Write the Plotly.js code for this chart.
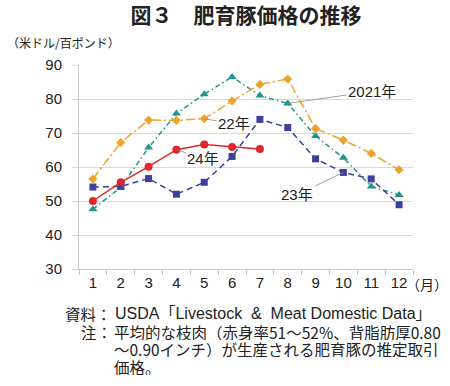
<!DOCTYPE html>
<html>
<head>
<meta charset="utf-8">
<script src="https://cdn.plot.ly/plotly-3.0.1.min.js"></script>
<style>
html,body{margin:0;padding:0;background:#fff;}
#chart{width:450px;height:386px;}
</style>
</head>
<body>
<div id="chart"></div>
<script>
// ---- data ----
var months = ['1','2','3','4','5','6','7','8','9','10','11','12'];
var y2021 = [47.6, 54.0, 65.7, 75.7, 81.4, 86.5, 81.0, 78.7, 69.1, 62.7, 54.3, 51.8];
var y2022 = [56.5, 67.2, 73.8, 73.7, 74.2, 79.4, 84.3, 85.9, 71.3, 67.9, 64.0, 59.2];
var y2023 = [54.1, 54.3, 56.6, 52.0, 55.5, 63.1, 74.0, 71.6, 62.4, 58.4, 56.5, 48.9];
var y2024 = [50.0, 55.5, 60.1, 65.1, 66.6, 65.9, 65.3];
var yTicks = [30, 40, 50, 60, 70, 80, 90];

var W = 450, H = 386;
var L = 79, R = 37, T = 65, B = 117;
var pw = W - L - R, ph = H - T - B;
function px(x){ return (x - L) / pw; }
function py(y){ return (H - B - y) / ph; }
function idx(m){ return months.indexOf(m); }

var latin = 'Liberation Sans, Arial, Noto Sans CJK JP, sans-serif';
var jp = 'Noto Sans CJK JP, sans-serif';
var ink = '#222';

var traces = [
  {x: months, y: y2021, name: '2021', type: 'scatter', mode: 'lines+markers',
   line: {color: '#1f968b', width: 1.5, dash: '5px,3px,1.5px,3px'},
   marker: {symbol: 'triangle-up', size: 8, color: '#1f968b'}},
  {x: months, y: y2022, name: '2022', type: 'scatter', mode: 'lines+markers',
   line: {color: '#eea22e', width: 1.5, dash: '9px,3px,2px,3px'},
   marker: {symbol: 'diamond', size: 7, color: '#eea22e'}},
  {x: months, y: y2023, name: '2023', type: 'scatter', mode: 'lines+markers',
   line: {color: '#3d3f9c', width: 1.5, dash: '6px,4px'},
   marker: {symbol: 'square', size: 7, color: '#3d3f9c'}},
  {x: months.slice(0, y2024.length), y: y2024, name: '2024', type: 'scatter', mode: 'lines+markers',
   line: {color: '#e0262a', width: 1.5},
   marker: {symbol: 'circle', size: 8, color: '#e0262a'}}
];

var annFont = {family: latin, size: 15, color: ink};
var noteFont = {family: jp, size: 15.5, color: ink};
function note(x, y, text, anchor, font){
  return {x: px(x), y: py(y), xref: 'paper', yref: 'paper', xanchor: anchor || 'left',
          yanchor: 'middle', text: text, showarrow: false, font: font || noteFont,
          height: 17, borderpad: 0, valign: 'middle'};
}
var annotations = [
  {x: idx('8'), y: y2021[7], xref: 'x', yref: 'y', text: '2021年', showarrow: true,
   arrowhead: 0, arrowwidth: 0.8, arrowcolor: '#888', ax: 84, ay: -12, font: annFont},
  {x: idx('5'), y: y2022[4], xref: 'x', yref: 'y', text: '22年', showarrow: true,
   arrowhead: 0, arrowwidth: 0.8, arrowcolor: '#888', ax: 30, ay: 5, font: annFont},
  {x: idx('4'), y: y2024[3], xref: 'x', yref: 'y', text: '24年', showarrow: true,
   arrowhead: 0, arrowwidth: 0.8, arrowcolor: '#888', ax: 27, ay: 9, font: annFont},
  {x: idx('10'), y: y2023[9], xref: 'x', yref: 'y', text: '23年', showarrow: true,
   arrowhead: 0, arrowwidth: 0.8, arrowcolor: '#888', ax: -46, ay: 22, font: annFont},
  {x: px(5), y: py(43), xref: 'paper', yref: 'paper', xanchor: 'left', yanchor: 'middle',
   text: '（米ドル/百ポンド）', showarrow: false, font: {family: jp, size: 12, color: ink}},
  {x: px(449), y: py(284), xref: 'paper', yref: 'paper', xanchor: 'right', yanchor: 'middle',
   text: '（月）', showarrow: false, borderpad: 0, font: {family: jp, size: 14, color: ink}},
  note(113, 313, '資料：', 'right'),
  note(114, 313, 'USDA「Livestock&nbsp; &amp; &nbsp;Meat Domestic Data」', 'left',
       {family: latin, size: 16, color: ink}),
  note(113, 331, '注：', 'right'),
  note(113, 331, '平均的な枝肉（赤身率51～52%、背脂肪厚0.80'),
  note(113, 348, '～0.90インチ）が生産される肥育豚の推定取引'),
  note(113, 366, '価格。')
];

var layout = {
  width: W, height: H,
  margin: {l: L, r: R, t: T, b: B, pad: 0},
  paper_bgcolor: '#fff', plot_bgcolor: '#fff',
  showlegend: false,
  title: {text: '図３　肥育豚価格の推移', x: 0.5, xref: 'paper', xanchor: 'center',
          y: 1 - 16 / H, yref: 'container', yanchor: 'middle',
          font: {family: jp, size: 21, color: ink, weight: 700}},
  xaxis: {type: 'category', categoryorder: 'array', categoryarray: months,
          range: [-0.5, 11.5], tickson: 'boundaries', ticks: 'outside', ticklen: 5,
          tickcolor: '#c8c8c8', showline: true, linecolor: '#c8c8c8', linewidth: 1,
          showgrid: false, zeroline: false,
          tickfont: {family: latin, size: 15, color: ink}, fixedrange: true},
  yaxis: {range: [30, 90], tickvals: yTicks, ticktext: yTicks.map(String),
          ticks: 'outside', ticklen: 6, tickcolor: '#d9d9d9', ticklabelstandoff: 7,
          showline: true, linecolor: '#c8c8c8', linewidth: 1,
          showgrid: true, gridcolor: '#d9d9d9', gridwidth: 1, zeroline: false,
          tickfont: {family: latin, size: 15, color: ink}, fixedrange: true},
  annotations: annotations
};

Plotly.newPlot('chart', traces, layout, {displayModeBar: false, staticPlot: true});
</script>
</body>
</html>
